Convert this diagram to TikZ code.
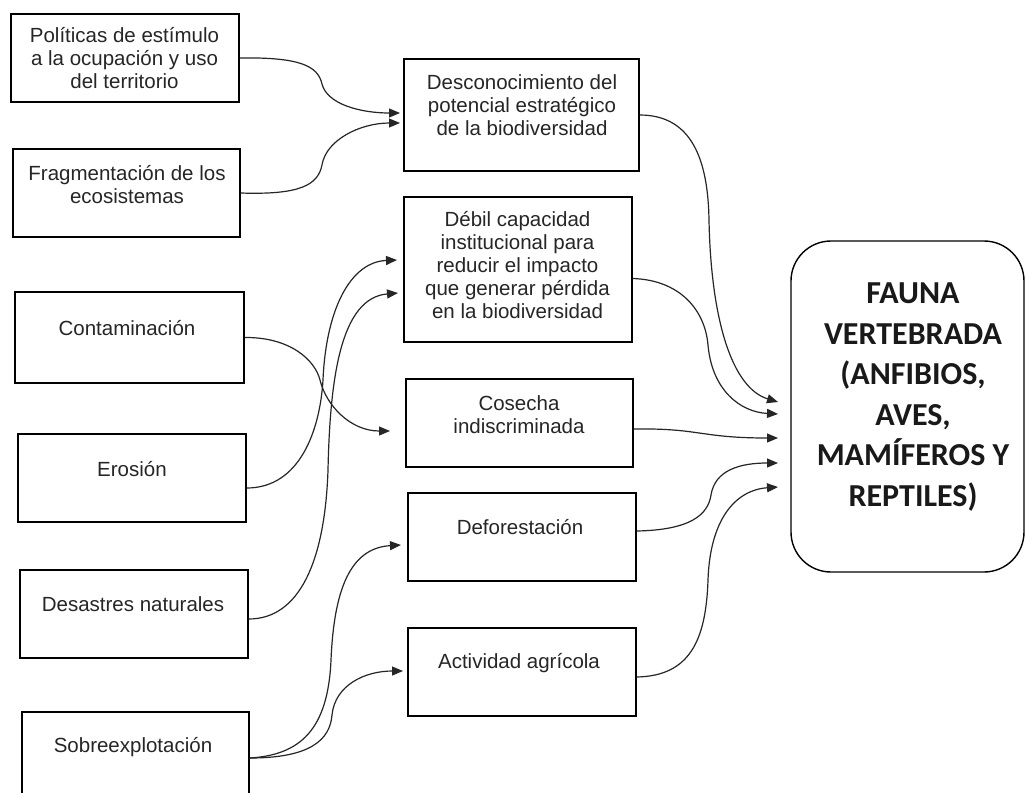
\documentclass[tikz,border=0pt]{standalone}
\usepackage{fontspec}
\setmainfont{Liberation Sans}
\newfontfamily\faunafont{Carlito}
\usetikzlibrary{arrows.meta}
\tikzset{
  box/.style={draw=black, line width=1.4pt, rectangle, inner sep=0pt},
  txt/.style={inner sep=0pt, align=center, text=black!85, font=\fontsize{20.5}{23}\selectfont},
  bigtxt/.style={inner sep=0pt, align=center, text=black!90, font=\faunafont\bfseries\fontsize{32}{40.5}\selectfont},
  arr/.style={draw=black!85, line width=1.2pt, -{Triangle[length=11pt,width=9pt]}}
}
\begin{document}
\begin{tikzpicture}[x=1pt,y=-1pt]
\useasboundingbox (0,0) rectangle (1029,793);
\clip (0,0) rectangle (1029,793);
\fill[white] (0,0) rectangle (1029,793);

% left boxes
\node[box, minimum width=228pt, minimum height=88pt] (pol) at (125,58) {};
\node[box, minimum width=227pt, minimum height=88pt] (frag) at (126.5,193) {};
\node[box, minimum width=229pt, minimum height=91pt] (cont) at (129.5,337.5) {};
\node[box, minimum width=228pt, minimum height=88pt] (eros) at (132,478) {};
\node[box, minimum width=228pt, minimum height=88pt] (desa) at (134,614) {};
\node[box, minimum width=227pt, minimum height=100pt] (sob) at (135.5,762) {};

% middle boxes
\node[box, minimum width=235pt, minimum height=112pt] (desc) at (521.5,115) {};
\node[box, minimum width=228pt, minimum height=145pt] (debil) at (518,269.5) {};
\node[box, minimum width=227pt, minimum height=88pt] (cose) at (519.5,423) {};
\node[box, minimum width=228pt, minimum height=88pt] (defo) at (522,537) {};
\node[box, minimum width=228pt, minimum height=88pt] (acti) at (522,672) {};

% right box
\node[box, rounded corners=40pt, minimum width=233pt, minimum height=331pt] (fauna) at (907.5,406.5) {};

% texts
\node[txt] (tpol) at (124.5,58.5) {Políticas de estímulo\\a la ocupación y uso\\del territorio};
\node[txt] (tfrag) at (127,185) {Fragmentación de los\\ecosistemas};
\node[txt] (tcont) at (127,328) {Contaminación};
\node[txt] (teros) at (132,469) {Erosión};
\node[txt] (tdesa) at (133,604) {Desastres naturales};
\node[txt] (tsob) at (133,747) {Sobreexplotación};
\node[txt] (tdesc) at (522,105.5) {Desconocimiento del\\potencial estratégico\\de la biodiversidad};
\node[txt] (tdebil) at (517.5,265.5) {Débil capacidad\\institucional para\\reducir el impacto\\que generar pérdida\\en la biodiversidad};
\node[txt] (tcose) at (519,415) {Cosecha\\indiscriminada};
\node[txt] (tdefo) at (520,527) {Deforestación};
\node[txt] (tacti) at (519,663) {Actividad agrícola};
\node[bigtxt] (tfauna) at (913,397) {FAUNA\\VERTEBRADA\\(ANFIBIOS,\\AVES,\\MAMÍFEROS Y\\REPTILES)};

% arrow tips
\coordinate (d1) at (400,113);
\coordinate (d2) at (400,123);
\coordinate (b1) at (397,260);
\coordinate (b2) at (398,293);
\coordinate (c1) at (390,431);
\coordinate (f1) at (401,545);
\coordinate (a1) at (403,671);
\coordinate (r1) at (778,402);
\coordinate (r2) at (778,414);
\coordinate (r3) at (778,438);
\coordinate (r4) at (778,463);
\coordinate (r5) at (778,487);

% left to middle
\draw[arr] (pol.east) .. controls (300,57) and (318,66) .. (322,84) .. controls (327,104) and (360,113) .. (d1);
\draw[arr] (frag.east) .. controls (300,195) and (318,185) .. (322,165) .. controls (326,140) and (360,123) .. (d2);
\draw[arr] (cont.east) .. controls (290,337) and (315,360) .. (320,380) .. controls (326,405) and (350,431) .. (c1);
\draw[arr] ([yshift=-10pt]eros.east) .. controls (300,488) and (320,430) .. (323,380) .. controls (326,310) and (350,262) .. (b1);
\draw[arr] ([yshift=-5pt]desa.east) .. controls (300,619) and (325,560) .. (328,470) .. controls (330,380) and (340,298) .. (b2);
\draw[arr] ([yshift=4pt]sob.east) .. controls (300,755) and (328,730) .. (331,660) .. controls (334,590) and (350,548) .. (f1);
\draw[arr] ([yshift=4pt]sob.east) .. controls (310,758) and (330,740) .. (332,715) .. controls (335,685) and (365,671) .. (a1);

% middle to right
\draw[arr] (desc.east) .. controls (692,115) and (708,160) .. (709,220) .. controls (711,320) and (732,388) .. (r1);
\draw[arr] ([yshift=-9pt]debil.east) .. controls (680,280) and (705,310) .. (708,345) .. controls (712,390) and (740,412) .. (r2);
\draw[arr] ([yshift=-6pt]cose.east) .. controls (700,428) and (700,438) .. (r3);
\draw[arr] ([yshift=6pt]defo.east) .. controls (690,530) and (708,515) .. (711,495) .. controls (715,470) and (740,463) .. (r4);
\draw[arr] ([yshift=-5pt]acti.east) .. controls (690,676) and (706,640) .. (708,580) .. controls (710,520) and (735,490) .. (r5);
\end{tikzpicture}
\end{document}
